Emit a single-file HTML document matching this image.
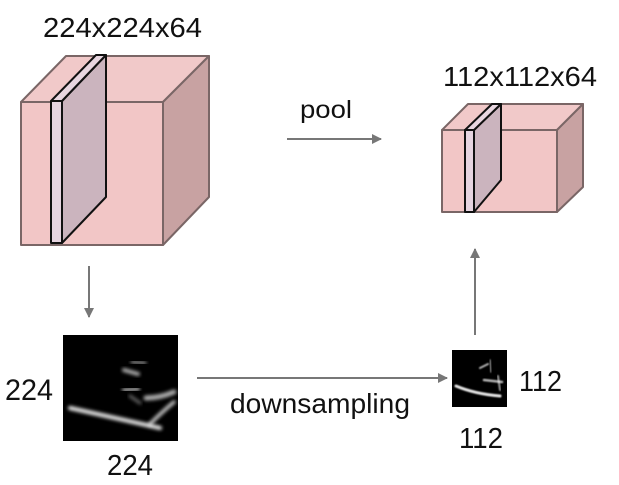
<!DOCTYPE html>
<html><head><style>
html,body{margin:0;padding:0;background:#fff;}
svg{display:block;}
text{font-family:"Liberation Sans",Arial,sans-serif;fill:#111;}
</style></head><body>
<svg width="619" height="485" viewBox="0 0 619 485" xmlns="http://www.w3.org/2000/svg">
<defs>
<filter id="b1" x="-30%" y="-100%" width="160%" height="300%"><feGaussianBlur stdDeviation="1.8"/></filter>
<filter id="b2" x="-30%" y="-100%" width="160%" height="300%"><feGaussianBlur stdDeviation="0.8"/></filter>
<marker id="ah" viewBox="0 0 10 10" refX="9" refY="5" markerWidth="11" markerHeight="10" markerUnits="userSpaceOnUse" orient="auto"><path d="M0,0 L10,5 L0,10 z" fill="#777"/></marker>
</defs>
<rect width="619" height="485" fill="#fff"/>
<!-- big cube -->
<g stroke="#7a6666" stroke-width="2" stroke-linejoin="round">
<polygon points="21,102 66,56 209,56 163,102" fill="#f1c9c9"/>
<polygon points="163,102 209,56 209,197 163,245" fill="#c8a2a2"/>
<rect x="21" y="102" width="142" height="143" fill="#f2c6c6"/>
</g>
<g stroke="#111" stroke-width="2" stroke-linejoin="round">
<polygon points="62,101 106,55 106,197 62,243" fill="#cbb4be"/>
<polygon points="51,101 96,55 106,55 62,101" fill="#e8d6e0"/>
<rect x="51" y="101" width="11" height="142" fill="#e6d4e0"/>
</g>
<text x="43" y="37" font-size="28" textLength="159" lengthAdjust="spacingAndGlyphs">224x224x64</text>
<!-- small cube -->
<g stroke="#7a6666" stroke-width="2" stroke-linejoin="round">
<polygon points="442,130 468,104 583,104 557,130" fill="#f1c9c9"/>
<polygon points="557,130 583,104 583,187 557,212" fill="#c8a2a2"/>
<rect x="442" y="130" width="115" height="82" fill="#f2c6c6"/>
</g>
<g stroke="#111" stroke-width="2" stroke-linejoin="round">
<polygon points="474,130 501,104 501,180 474,212" fill="#cbb4be"/>
<polygon points="465,130 492,104 501,104 474,130" fill="#e8d6e0"/>
<rect x="465" y="130" width="9" height="82" fill="#e6d4e0"/>
</g>
<text x="443" y="86" font-size="28" textLength="154" lengthAdjust="spacingAndGlyphs">112x112x64</text>
<!-- pool -->
<text x="300" y="118" font-size="25" textLength="52" lengthAdjust="spacingAndGlyphs">pool</text>
<line x1="287" y1="139" x2="381" y2="139" stroke="#777" stroke-width="2" marker-end="url(#ah)"/>
<!-- arrows -->
<line x1="89" y1="266" x2="89" y2="317" stroke="#777" stroke-width="2" marker-end="url(#ah)"/>
<line x1="475" y1="335" x2="475" y2="249" stroke="#777" stroke-width="2" marker-end="url(#ah)"/>
<line x1="197" y1="378" x2="447" y2="378" stroke="#777" stroke-width="2" marker-end="url(#ah)"/>
<!-- big image -->
<rect x="63" y="335" width="115" height="106" fill="#000"/>
<g fill="none" stroke="#fff" stroke-linecap="round">
<path d="M70,408 Q115,418 160,428" stroke-width="4" filter="url(#b1)" opacity="0.95"/>
<path d="M150,424 Q162,412 174,402" stroke-width="3.5" filter="url(#b1)" opacity="0.8"/>
<path d="M72,366 L102,366" stroke-width="2.5" filter="url(#b1)" opacity="0.75"/>
<path d="M124,370 L138,374" stroke-width="4" filter="url(#b1)" opacity="0.7"/>
<path d="M76,386 L94,386" stroke-width="2.5" filter="url(#b1)" opacity="0.5"/>
<path d="M124,390 L138,389" stroke-width="4" filter="url(#b1)" opacity="0.65"/>
<path d="M146,398 Q160,398 174,392" stroke-width="5" filter="url(#b1)" opacity="0.7"/>
<path d="M64,398 L76,398" stroke-width="2.5" filter="url(#b1)" opacity="0.6"/>
<path d="M132,362 L145,363" stroke-width="3" filter="url(#b1)" opacity="0.6"/>
<path d="M172,376 L172,394" stroke-width="2.5" filter="url(#b1)" opacity="0.5"/>
<path d="M130,396 L140,403" stroke-width="3" filter="url(#b1)" opacity="0.4"/>
</g>
<!-- small image -->
<rect x="452" y="350" width="55" height="57" fill="#000"/>
<g fill="none" stroke="#fff" stroke-linecap="round">
<path d="M456,386 Q475,394 500,396" stroke-width="3" filter="url(#b2)" opacity="0.9"/>
<path d="M457,368 L470,368" stroke-width="1.5" filter="url(#b2)" opacity="0.7"/>
<path d="M480,368 L488,364" stroke-width="2" filter="url(#b2)" opacity="0.7"/>
<path d="M484,380 L502,382" stroke-width="2.5" filter="url(#b2)" opacity="0.7"/>
<path d="M456,378 L468,378" stroke-width="1.5" filter="url(#b2)" opacity="0.6"/>
<path d="M490,360 L491,372" stroke-width="1.5" filter="url(#b2)" opacity="0.6"/>
<path d="M498,376 L500,390" stroke-width="2" filter="url(#b2)" opacity="0.6"/>
</g>
<!-- labels -->
<text x="5" y="400" font-size="30" textLength="48" lengthAdjust="spacingAndGlyphs">224</text>
<text x="107" y="475" font-size="29" textLength="46" lengthAdjust="spacingAndGlyphs">224</text>
<text x="230" y="413" font-size="28" textLength="180" lengthAdjust="spacingAndGlyphs">downsampling</text>
<text x="519" y="391" font-size="29" textLength="43" lengthAdjust="spacingAndGlyphs">112</text>
<text x="459" y="448" font-size="29" textLength="44" lengthAdjust="spacingAndGlyphs">112</text>
</svg>
</body></html>
